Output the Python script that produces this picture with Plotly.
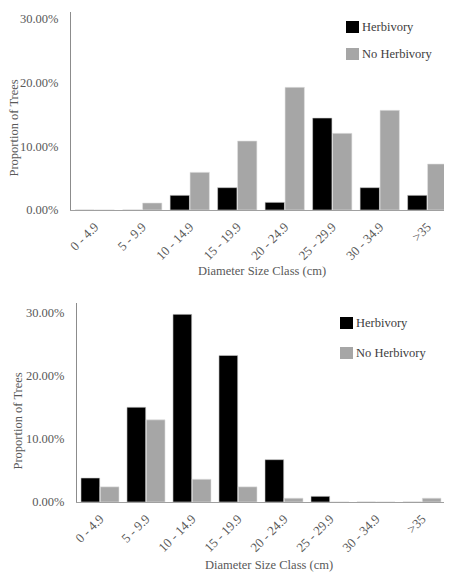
import plotly.graph_objects as go

categories = ["0 - 4.9", "5 - 9.9", "10 - 14.9", "15 - 19.9", "20 - 24.9", "25 - 29.9", "30 - 34.9", ">35"]
series_names = ["Herbivory", "No Herbivory"]
x_title = "Diameter Size Class (cm)"
y_title = "Proportion of Trees"

top_herbivory = [0.0, 0.0, 0.023, 0.035, 0.012, 0.144, 0.035, 0.023]
top_no_herbivory = [0.0, 0.011, 0.059, 0.108, 0.192, 0.120, 0.156, 0.072]

bottom_herbivory = [0.038, 0.150, 0.297, 0.232, 0.067, 0.009, 0.0, 0.0]
bottom_no_herbivory = [0.024, 0.130, 0.036, 0.024, 0.006, 0.0, 0.0, 0.006]

y_ticks = [0, 0.1, 0.2, 0.3]

# page has an 8px body margin, so the figure is sized to fill the rest of the window
OFF = 8
W, H = 452 - OFF, 572 - OFF
FONT = "'Liberation Serif', 'Times New Roman', serif"
TXT = "#595959"
LEG_TXT = "#404040"
BLACK = "#000000"
GRAY = "#A6A6A6"
colors = [BLACK, GRAY]

fig = go.Figure()

fig.add_trace(go.Bar(x=categories, y=top_herbivory, name=series_names[0], marker_color=BLACK,
                     marker_line=dict(color="#D0D0D0", width=0.6), xaxis="x", yaxis="y"))
fig.add_trace(go.Bar(x=categories, y=top_no_herbivory, name=series_names[1], marker_color=GRAY,
                     marker_line=dict(color="#E0E0E0", width=0.6), xaxis="x", yaxis="y"))
fig.add_trace(go.Bar(x=categories, y=bottom_herbivory, name=series_names[0], marker_color=BLACK,
                     marker_line=dict(color="#D0D0D0", width=0.6), xaxis="x2", yaxis="y2"))
fig.add_trace(go.Bar(x=categories, y=bottom_no_herbivory, name=series_names[1], marker_color=GRAY,
                     marker_line=dict(color="#E0E0E0", width=0.6), xaxis="x2", yaxis="y2"))

def px_x(p):
    return (p - OFF) / W

def px_y(p):
    return 1 - (p - OFF) / H

xaxis_common = dict(
    type="category", showgrid=False, zeroline=False, showline=True, linecolor="#A0A0A0", linewidth=1.3,
    tickangle=-45, tickfont=dict(family=FONT, size=13, color=TXT), ticks="",
    ticklabelstandoff=3, automargin=False,
)

yaxis_common = dict(
    showgrid=False, zeroline=False, showline=True, linecolor="#8C8C8C", linewidth=1,
    tickvals=y_ticks, tickformat=".2%", tickfont=dict(family=FONT, size=12.5, color=TXT), ticks="",
    ticklabelstandoff=9, automargin=False,
)

fig.update_layout(
    width=W, height=H,
    margin=dict(l=0, r=0, t=0, b=0, pad=0, autoexpand=False),
    paper_bgcolor="white", plot_bgcolor="white",
    barmode="group", bargap=0.16, bargroupgap=0.03,
    font=dict(family=FONT, color=TXT),
    xaxis=dict(domain=[px_x(71), px_x(451)], anchor="y", **xaxis_common),
    yaxis=dict(domain=[px_y(210), px_y(12)], anchor="x", range=[0, 0.31], **yaxis_common),
    xaxis2=dict(domain=[px_x(77), px_x(445)], anchor="y2", **xaxis_common),
    yaxis2=dict(domain=[px_y(502), px_y(303)], anchor="x2", range=[0, 0.315], **yaxis_common),
    showlegend=False,
)

# Axis titles placed as in the reference
title_specs = [
    # (x-title center x, center y, y-title center x, center y)
    (262, 271, 13.5, 128),
    (269, 565, 17.5, 421),
]
for (xcx, xcy, ycx, ycy) in title_specs:
    fig.add_annotation(text=x_title, xref="paper", yref="paper", x=px_x(xcx), y=px_y(xcy),
                       xanchor="center", yanchor="middle", showarrow=False,
                       font=dict(family=FONT, size=12.5, color=TXT))
    fig.add_annotation(text=y_title, xref="paper", yref="paper", x=px_x(ycx), y=px_y(ycy),
                       xanchor="center", yanchor="middle", showarrow=False, textangle=-90,
                       font=dict(family=FONT, size=12.5, color=TXT))

# Manual legends (square + label), placed like the reference
legend_specs = [
    # (square left px, first square top px, row spacing px)
    (346, 21, 27),
    (340, 317, 30),
]
for (lx, ty, dy) in legend_specs:
    for i, name in enumerate(series_names):
        top = ty + i * dy
        fig.add_shape(type="rect", xref="paper", yref="paper",
                      x0=px_x(lx), x1=px_x(lx + 13), y0=px_y(top + 12), y1=px_y(top),
                      fillcolor=colors[i], line=dict(width=0))
        fig.add_annotation(text=name, xref="paper", yref="paper",
                           x=px_x(lx + 14), y=px_y(top + 6), xanchor="left", yanchor="middle",
                           showarrow=False, font=dict(family=FONT, size=12.5, color=LEG_TXT))

fig.write_html("out.html")
